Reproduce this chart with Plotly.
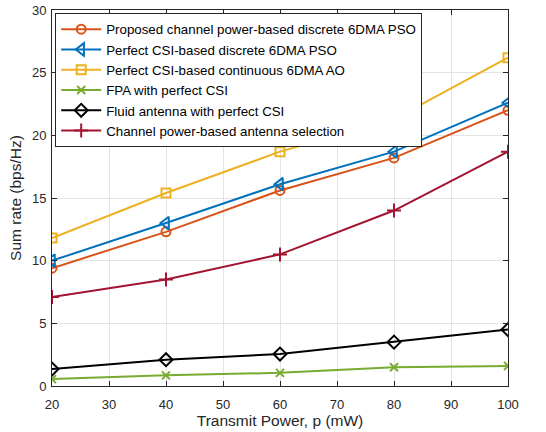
import plotly.graph_objects as go

power = [20, 40, 60, 80, 100]
proposed = [9.4, 12.3, 15.6, 18.2, 22.0]
perfect_discrete = [10.0, 13.0, 16.1, 18.7, 22.6]
perfect_continuous = [11.8, 15.4, 18.7, 21.3, 26.2]
fpa = [0.55, 0.85, 1.05, 1.5, 1.6]
fluid = [1.35, 2.1, 2.55, 3.5, 4.5]
antenna_sel = [7.1, 8.5, 10.5, 14.0, 18.7]

series = [
    ("Proposed channel power-based discrete 6DMA PSO", proposed, "#D95319", "circle-open", 9),
    ("Perfect CSI-based discrete 6DMA PSO", perfect_discrete, "#0072BD", "triangle-left-open", 11),
    ("Perfect CSI-based continuous 6DMA AO", perfect_continuous, "#EDB120", "square-open", 9),
    ("FPA with perfect CSI", fpa, "#77AC30", "x-thin-open", 8),
    ("Fluid antenna with perfect CSI", fluid, "#000000", "diamond-open", 10),
    ("Channel power-based antenna selection", antenna_sel, "#A2142F", "cross-thin-open", 10),
]

fig = go.Figure()
for name, ys, col, sym, sz in series:
    fig.add_trace(go.Scatter(
        x=power, y=ys, name=name, mode="lines+markers",
        line=dict(color=col, width=2),
        marker=dict(symbol=sym, size=sz, color=col, line=dict(color=col, width=2)),
    ))

axis_common = dict(
    showgrid=True, gridcolor="#E3E3E3", gridwidth=1,
    showline=True, linecolor="#262626", linewidth=1, mirror="ticks",
    ticks="inside", ticklen=5, tickcolor="#262626",
    tickfont=dict(family="Liberation Sans, Arial", size=13, color="#262626"),
    zeroline=False, automargin=False,
)

fig.update_layout(
    width=546, height=432,
    margin=dict(l=52, r=38, t=10, b=46),
    paper_bgcolor="white", plot_bgcolor="white",
    font=dict(family="Liberation Sans, Arial", color="#262626"),
    xaxis=dict(range=[20, 100], dtick=10, tick0=20, ticklabelstandoff=6,
               title=dict(text="Transmit Power, p (mW)", font=dict(size=15.5), standoff=4),
               **axis_common),
    yaxis=dict(range=[0, 30], dtick=5, ticklabelstandoff=2,
               title=dict(text="Sum rate (bps/Hz)", font=dict(size=15.5), standoff=6),
               **axis_common),
    legend=dict(x=0.007, y=0.992, xanchor="left", yanchor="top",
                bgcolor="white", bordercolor="#262626", borderwidth=1,
                font=dict(size=13.3, color="#000000"), tracegroupgap=0,
                itemwidth=40),
    showlegend=True,
)

fig.write_html("out.html")
